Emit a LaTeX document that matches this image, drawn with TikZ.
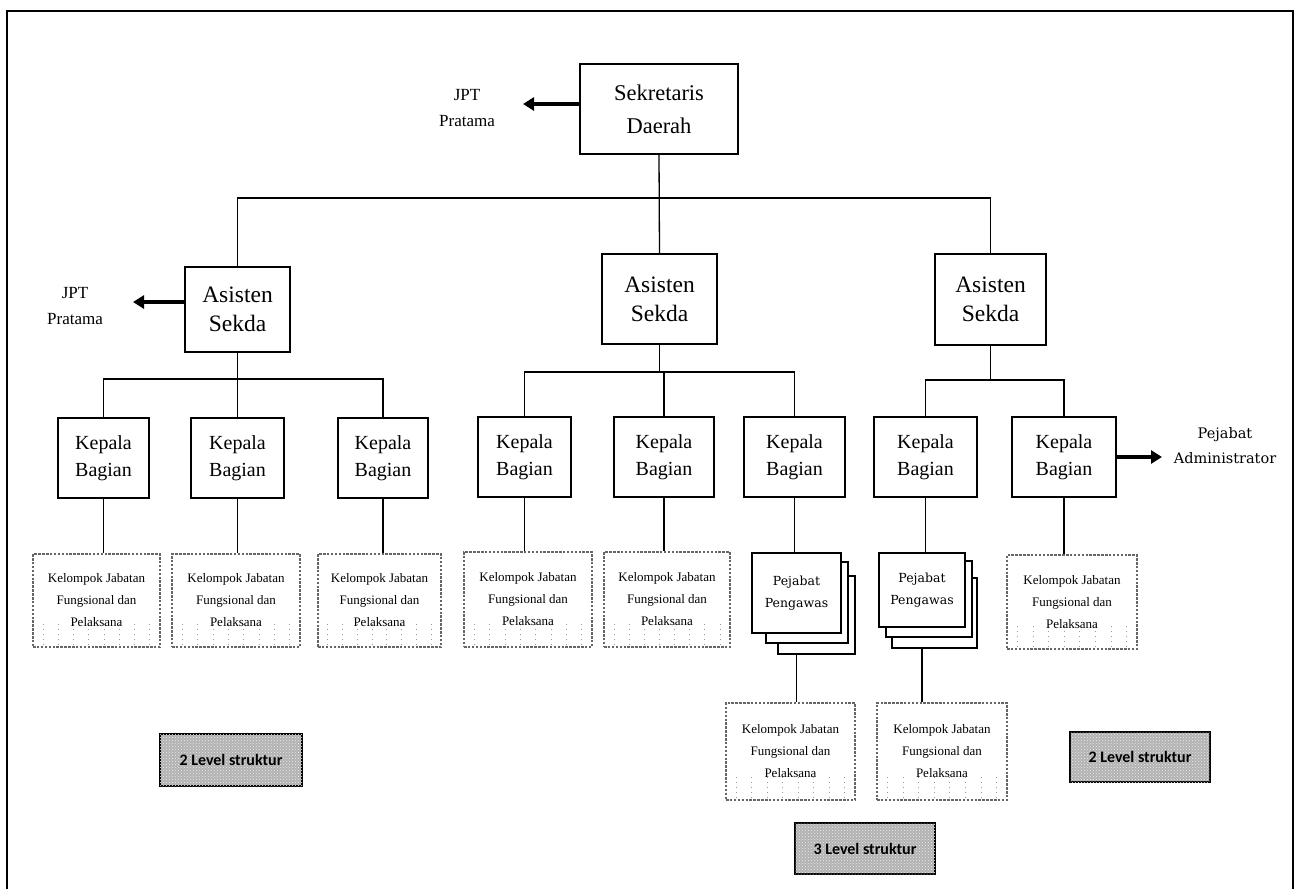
\documentclass[tikz,border=0pt]{standalone}
\usepackage{fontspec}
\setmainfont{Liberation Serif}
\newfontfamily\slabfont{DejaVu Serif}
\newfontfamily\labelfont{Carlito}
\usetikzlibrary{arrows.meta,calc,patterns}

\begin{document}
\begin{tikzpicture}[x=1pt,y=-1pt,
  box/.style={draw, line width=1.5pt, fill=white, inner sep=0pt, align=center},
  topbox/.style={box, font=\fontsize{22.5}{33}\selectfont},
  asbox/.style={box, font=\fontsize{23.5}{29}\selectfont},
  kbbox/.style={box, minimum height=80, font=\fontsize{20}{27}\selectfont},
  pjbox/.style={box, font=\slabfont\fontsize{12.5}{22}\selectfont},
  pjback/.style={box},
  grpbox/.style={draw=black!60, line width=1.1pt, dash pattern=on 2.5pt off 1.4pt,
    inner sep=0pt, align=center, font=\fontsize{13}{22}\selectfont,
    path picture={
      \foreach \f in {0.08,0.2,...,0.92}
        \draw[black!40, line width=0.8pt, dash pattern=on 1pt off 4pt]
          ($(path picture bounding box.south west)!\f!(path picture bounding box.south east)+(0,-2)$) -- ++(0,-22);
    }},
  lvbox/.style={draw, line width=1.3pt, fill=gray!60,
    postaction={pattern=crosshatch dots, pattern color=gray!15},
    inner sep=0pt, font=\labelfont\bfseries\fontsize{16}{18}\selectfont},
  sidetext/.style={align=center, inner sep=0pt, font=\fontsize{17}{26}\selectfont},
  link/.style={line width=1.3pt},
  sidearrow/.style={line width=3.2pt, -{Triangle[length=11pt,width=13pt]}}
]
\useasboundingbox (0,0) rectangle (1298,889);

% outer frame
\draw[line width=1.8pt] (7,889) -- (7,11) -- (1293,11) -- (1293,889);

% top level
\node[topbox, minimum width=158, minimum height=90] (sek) at (659,109) {Sekretaris\\Daerah};
\node[sidetext] (jptA) at (467,108) {JPT\\Pratama};
\coordinate (jptAtip) at (523,104);

% assistants
\node[asbox, minimum width=105, minimum height=85] (asL) at (237.5,309.5) {Asisten\\Sekda};
\node[asbox, minimum width=115, minimum height=90] (asM) at (659.5,299) {Asisten\\Sekda};
\node[asbox, minimum width=111, minimum height=91] (asR) at (990.5,299.5) {Asisten\\Sekda};
\node[sidetext] (jptB) at (75,306) {JPT\\Pratama};
\coordinate (jptBtip) at (133,302);

% heads of division
\node[kbbox, minimum width=91] (kb1) at (103.5,458) {Kepala\\Bagian};
\node[kbbox, minimum width=93] (kb2) at (237.5,458) {Kepala\\Bagian};
\node[kbbox, minimum width=90] (kb3) at (383,458) {Kepala\\Bagian};
\node[kbbox, minimum width=93] (kb4) at (524.5,457) {Kepala\\Bagian};
\node[kbbox, minimum width=100] (kb5) at (664,457) {Kepala\\Bagian};
\node[kbbox, minimum width=101] (kb6) at (794.5,457) {Kepala\\Bagian};
\node[kbbox, minimum width=103] (kb7) at (925.5,457) {Kepala\\Bagian};
\node[kbbox, minimum width=104] (kb8) at (1064,457) {Kepala\\Bagian};
\node[sidetext, font=\slabfont\fontsize{14.5}{25}\selectfont] (padm) at (1225,446) {Pejabat\\Administrator};
\coordinate (padmtip) at (1162,457);

% functional groups
\node[grpbox, minimum width=127, minimum height=93] (kj1) at (96.5,600.5) {Kelompok Jabatan\\Fungsional dan\\Pelaksana};
\node[grpbox, minimum width=128, minimum height=93] (kj2) at (236,600.5) {Kelompok Jabatan\\Fungsional dan\\Pelaksana};
\node[grpbox, minimum width=123, minimum height=93] (kj3) at (379.5,600.5) {Kelompok Jabatan\\Fungsional dan\\Pelaksana};
\node[grpbox, minimum width=128, minimum height=95] (kj4) at (528,599.5) {Kelompok Jabatan\\Fungsional dan\\Pelaksana};
\node[grpbox, minimum width=126, minimum height=95] (kj5) at (667,599.5) {Kelompok Jabatan\\Fungsional dan\\Pelaksana};
\node[grpbox, minimum width=130, minimum height=94] (kj6) at (1072,602) {Kelompok Jabatan\\Fungsional dan\\Pelaksana};
\node[grpbox, minimum width=129, minimum height=97] (kj7) at (790.5,751.5) {Kelompok Jabatan\\Fungsional dan\\Pelaksana};
\node[grpbox, minimum width=130, minimum height=97] (kj8) at (942,751.5) {Kelompok Jabatan\\Fungsional dan\\Pelaksana};

% supervisor stacks
\node[pjback, minimum width=77, minimum height=78] (pjA3) at (816.5,615) {};
\node[pjback, minimum width=82, minimum height=81] (pjA2) at (807,602.5) {};
\node[pjbox, minimum width=89, minimum height=80] (pjA) at (796.5,593) {Pejabat\\Pengawas};
\node[pjback, minimum width=85, minimum height=70] (pjB3) at (934.5,613) {};
\node[pjback, minimum width=86, minimum height=76] (pjB2) at (929,599) {};
\node[pjbox, minimum width=86, minimum height=74] (pjB) at (922,590) {Pejabat\\Pengawas};

% structure level tags
\node[lvbox, minimum width=142, minimum height=52] (lv1) at (231,760) {2 Level struktur};
\node[lvbox, minimum width=140, minimum height=50] (lv2) at (1140,757) {2 Level struktur};
\node[lvbox, minimum width=140, minimum height=51] (lv3) at (865,848.5) {3 Level struktur};

% connectors
\coordinate (busTop) at (659,198);
\coordinate (busL) at (237.5,379);
\coordinate (busM) at (659.5,372);
\coordinate (busR) at (990.5,380);

\draw[link] (sek.south) -- (asM.north);
\draw[link] (asL.north) |- (busTop) -| (asR.north);

\draw[link] (asL.south) -- (busL);
\draw[link] (kb1.north) |- (busL) -| (kb3.north);
\draw[link] (busL) -- (kb2.north);

\draw[link] (asM.south) -- (busM);
\draw[link] (kb4.north) |- (busM) -| (kb6.north);
\draw[link] (busM) -| (kb5.north);

\draw[link] (asR.south) -- (busR);
\draw[link] (kb7.north) |- (busR) -| (kb8.north);

\draw[link] (kb1.south) -- (kb1.south |- kj1.north);
\draw[link] (kb2.south) -- (kb2.south |- kj2.north);
\draw[link] (kb3.south) -- (kb3.south |- kj3.north);
\draw[link] (kb4.south) -- (kb4.south |- kj4.north);
\draw[link] (kb5.south) -- (kb5.south |- kj5.north);
\draw[link] (kb6.south) -- (kb6.south |- pjA.north);
\draw[link] (kb7.south) -- (kb7.south |- pjB.north);
\draw[link] (kb8.south) -- (kb8.south |- kj6.north);
\draw[link] (pjA.south |- pjA3.south) -- (pjA.south |- kj7.north);
\draw[link] (pjB.south |- pjB3.south) -- (pjB.south |- kj8.north);

% side arrows
\draw[sidearrow] ([yshift=5pt]sek.west) -- (jptAtip);
\draw[sidearrow] ([yshift=7.5pt]asL.west) -- (jptBtip);
\draw[sidearrow] (kb8.east) -- (padmtip);
\end{tikzpicture}
\end{document}
